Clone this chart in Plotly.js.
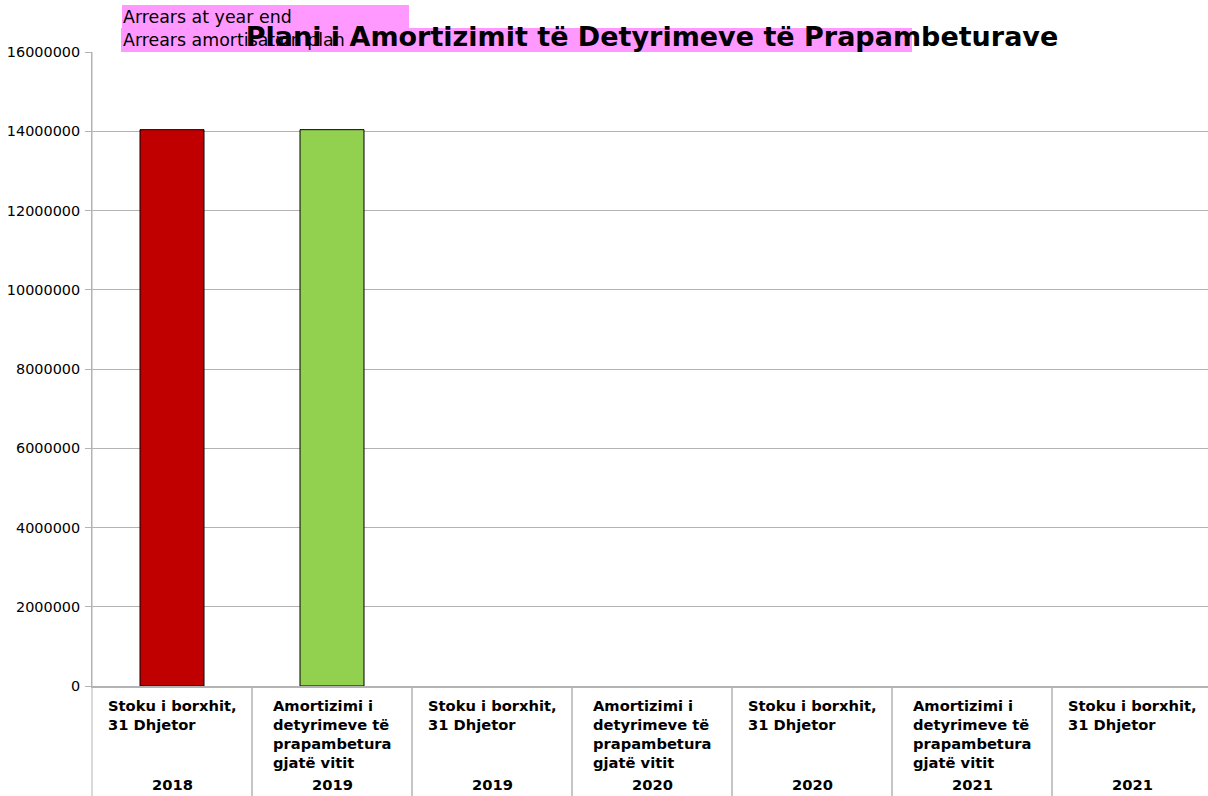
<!DOCTYPE html>
<html>
<head>
<meta charset="utf-8">
<script src="https://cdn.plot.ly/plotly-3.0.1.min.js"></script>
<style>
html, body { margin: 0; padding: 0; overflow: hidden; background: #fff; }
#chart { width: 1212px; height: 796px; }
</style>
</head>
<body>
<div id="chart"></div>
<script>
// ---- data ----
const years = ['2018', '2019', '2019', '2020', '2020', '2021', '2021'];
const categoryLabels = [
  'Stoku i borxhit,<br>31 Dhjetor',
  'Amortizimi i<br>detyrimeve të<br>prapambetura<br>gjatë vitit',
  'Stoku i borxhit,<br>31 Dhjetor',
  'Amortizimi i<br>detyrimeve të<br>prapambetura<br>gjatë vitit',
  'Stoku i borxhit,<br>31 Dhjetor',
  'Amortizimi i<br>detyrimeve të<br>prapambetura<br>gjatë vitit',
  'Stoku i borxhit,<br>31 Dhjetor'
];
const arrearsYearEnd = [14040000, null, null, null, null, null, null];
const arrearsAmortisation = [null, 14040000, null, null, null, null, null];
const seriesNames = ['Arrears at year end', 'Arrears amortisation plan'];
const chartTitle = 'Plani i Amortizimit të Detyrimeve të Prapambeturave';

// category keys (unique) built from the arrays
const cats = categoryLabels.map((l, i) => years[i] + ' | ' + i);

// ---- layout helpers (pixel -> paper) ----
const W = 1212, H = 796, ML = 92, MR = 0, MT = 52, MB = 110;
const PW = W - ML - MR, PH = H - MT - MB;
const px2x = p => (p - ML) / PW;
const py2y = p => (H - MB - p) / PH;

const gridCol = '#b3b3b3';

const traces = [
  { type: 'bar', name: seriesNames[0], x: cats, y: arrearsYearEnd, width: 0.4,
    marker: { color: '#c00000', line: { color: '#000', width: 1 } }, showlegend: false },
  { type: 'bar', name: seriesNames[1], x: cats, y: arrearsAmortisation, width: 0.4,
    marker: { color: '#92d050', line: { color: '#000', width: 1 } }, showlegend: false }
];

const annotations = [];
cats.forEach((c, i) => {
  annotations.push({
    xref: 'x', yref: 'paper', x: c, y: 0, yshift: -9,
    xanchor: 'center', yanchor: 'top', align: 'left', showarrow: false,
    text: '<b>' + categoryLabels[i] + '</b>',
    font: { family: 'DejaVu Sans', size: 14.7, color: '#000' }
  });
  annotations.push({
    xref: 'x', yref: 'paper', x: c, y: py2y(784),
    xanchor: 'center', yanchor: 'middle', showarrow: false,
    text: '<b>' + years[i] + '</b>',
    font: { family: 'DejaVu Sans', size: 14.7, color: '#000' }
  });
});
// legend texts
annotations.push({
  xref: 'paper', yref: 'paper', x: px2x(121), y: py2y(17), xanchor: 'left', yanchor: 'middle',
  showarrow: false, text: seriesNames[0], font: { family: 'DejaVu Sans', size: 17.4, color: '#000' }
});
annotations.push({
  xref: 'paper', yref: 'paper', x: px2x(121), y: py2y(40), xanchor: 'left', yanchor: 'middle',
  showarrow: false, text: seriesNames[1], font: { family: 'DejaVu Sans', size: 17.4, color: '#000' }
});

const shapes = [
  { type: 'rect', xref: 'paper', yref: 'paper', x0: px2x(122), x1: px2x(409), y0: py2y(28), y1: py2y(5),
    fillcolor: '#ff99ff', line: { width: 0 }, layer: 'above' },
  { type: 'rect', xref: 'paper', yref: 'paper', x0: px2x(121), x1: px2x(912), y0: py2y(52), y1: py2y(28),
    fillcolor: '#ff99ff', line: { width: 0 }, layer: 'above' },
  { type: 'line', xref: 'paper', yref: 'paper', x0: 0, x1: 0, y0: py2y(H), y1: 1,
    line: { color: gridCol, width: 1 } }
];
for (let i = 0; i < cats.length - 1; i++) {
  shapes.push({ type: 'line', xref: 'x', yref: 'paper', x0: i + 0.5, x1: i + 0.5, y0: py2y(H), y1: 0,
    line: { color: gridCol, width: 1.5 } });
}

const layout = {
  width: W, height: H,
  margin: { l: ML, r: MR, t: MT, b: MB, pad: 0 },
  paper_bgcolor: '#fff', plot_bgcolor: '#fff',
  barmode: 'overlay',
  showlegend: false,
  title: {
    text: '<b>' + chartTitle + '</b>',
    font: { family: 'DejaVu Sans', size: 27, color: '#000' },
    x: 0.5, xref: 'paper', xanchor: 'center',
    y: 1 - 37 / H, yref: 'container', yanchor: 'middle'
  },
  xaxis: {
    type: 'category', categoryorder: 'array', categoryarray: cats,
    showticklabels: false, ticks: '', showgrid: false,
    showline: true, linecolor: gridCol, linewidth: 1.5, zeroline: false,
    range: [-0.5, cats.length - 0.5]
  },
  yaxis: {
    range: [0, 16000000], dtick: 2000000, tickformat: 'd',
    showgrid: true, gridcolor: gridCol, gridwidth: 1,
    ticks: 'outside', ticklen: 6, tickcolor: gridCol, ticklabelstandoff: 2,
    showline: true, linecolor: gridCol, linewidth: 1, zeroline: false,
    tickfont: { family: 'DejaVu Sans', size: 14.4, color: '#000' }
  },
  annotations: annotations,
  shapes: shapes,
  font: { family: 'DejaVu Sans' }
};

Plotly.newPlot('chart', traces, layout, { displayModeBar: false, staticPlot: true });
</script>
</body>
</html>
